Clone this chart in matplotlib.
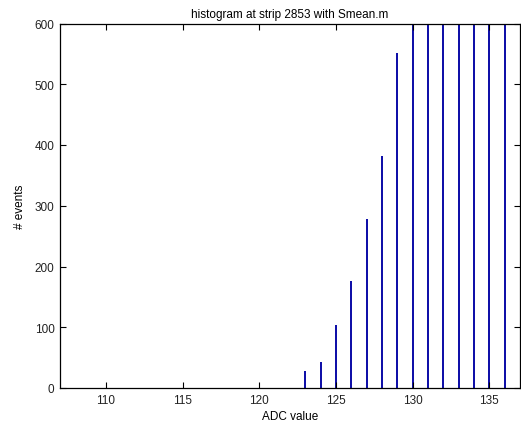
import matplotlib
matplotlib.use("Agg")
import matplotlib.pyplot as plt

# ADC histogram counts per bin (bins beyond 129 run off the top of the view)
adc_bins = [123, 124, 125, 126, 127, 128, 129, 130, 131, 132, 133, 134, 135, 136]
counts = [28, 42, 104, 176, 278, 382, 552, 760, 1000, 1250, 1500, 1750, 1950, 2100]

x_ticks = [110, 115, 120, 125, 130, 135]
y_ticks = [0, 100, 200, 300, 400, 500, 600]

plt.rcParams['font.family'] = ['Liberation Sans', 'DejaVu Sans']

fig = plt.figure(figsize=(5.21, 4.35), dpi=100)
ax = fig.add_axes([60 / 521, 1 - 389 / 435, 460 / 521, 364.5 / 435])

ax.bar(adc_bins, counts, width=0.11, color='#1010A8', edgecolor='none', align='center')

ax.set_xlim(107, 137)
ax.set_ylim(0, 600)
ax.set_xticks(x_ticks)
ax.set_yticks(y_ticks)
ax.tick_params(direction='in', top=True, right=True, length=4, width=0.8,
               labelsize=8.5, pad=4, labelcolor='#222222')
for s in ax.spines.values():
    s.set_linewidth(0.9)

ax.set_title('histogram at strip 2853 with Smean.m', fontsize=8.5, pad=5)
ax.set_xlabel('ADC value', fontsize=8.5, labelpad=3)
ax.set_ylabel('# events', fontsize=8.5, labelpad=6)

fig.savefig('out.png', dpi=100)
